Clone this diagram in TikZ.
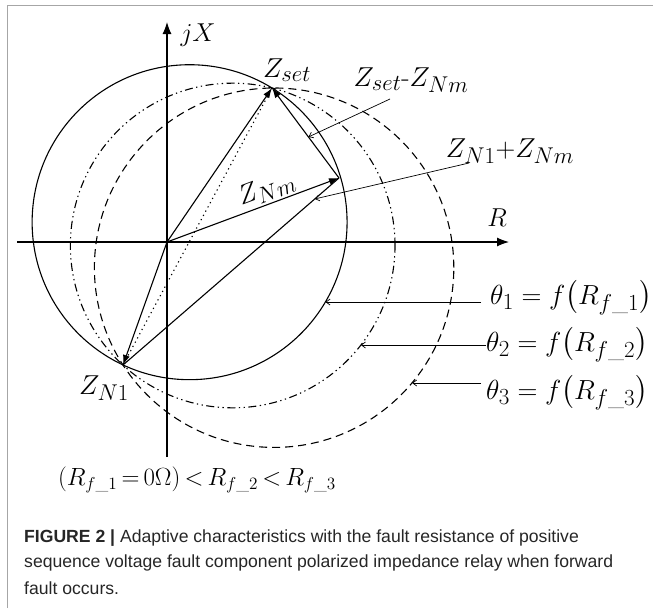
\documentclass[tikz,border=0pt]{standalone}
\usepackage{fontspec}
\usepackage{amsmath}
\usepackage{graphicx}
\setsansfont{Liberation Sans}
\usetikzlibrary{arrows.meta,calc}
\tikzset{
  mainline/.style={line width=1.1pt},
  vec/.style={mainline,-{Latex[length=10pt,width=7pt]}},
  axisline/.style={line width=1.1pt,-{Latex[length=12pt,width=9pt]}},
  ptr/.style={line width=0.7pt,-{Straight Barb[length=4pt,width=6pt]}},
  dashcirc/.style={line width=1.1pt,dash pattern=on 8pt off 5pt},
  dddcirc/.style={line width=1.1pt,dash pattern=on 8pt off 3.5pt on 1.3pt off 3.5pt on 1.3pt off 3.5pt},
  dotline/.style={line width=1.1pt,dash pattern=on 1.2pt off 3.6pt},
  mlabel/.style={inner sep=0pt,font=\fontsize{24.88}{30}\selectfont},
  tlabel/.style={inner sep=0pt,anchor=west,font=\fontsize{24.88}{30}\selectfont},
  caption/.style={inner sep=0pt,anchor=west,font=\sffamily\fontsize{17.6}{21}\selectfont,text=black!85}
}
\begin{document}
\begin{tikzpicture}[x=1pt,y=-1pt]
\useasboundingbox (0,0) rectangle (653,608);
% frame
\draw[gray!70,line width=1.5pt] (7.5,608) -- (7.5,5.5) -- (653,5.5);
% key points
\coordinate (O) at (167,242);
\coordinate (Zs) at (272,88);
\coordinate (Zn) at (123,365);
\coordinate (P) at (339,178);
\coordinate (yb) at (167,457);
\coordinate (yt) at (167,22);
\coordinate (xl) at (17,242);
\coordinate (xr) at (509,242);
\coordinate (c1) at (189.6,222.2);
\coordinate (c2) at (232.7,245.5);
\coordinate (c3) at (274.1,267.7);
% axes
\draw[axisline] (yb) -- (yt);
\draw[axisline] (xl) -- (xr);
\node[mlabel] (ljx) at (198,35) {\scalebox{1.04}{$jX$}};
\node[mlabel] (lr) at (497,218) {\scalebox{1.04}{$R$}};
% circles
\draw[mainline] let \p1=($(Zs)-(c1)$), \n1={veclen(\x1,\y1)} in (c1) circle (\n1);
\draw[dddcirc] let \p1=($(Zs)-(c2)$), \n1={veclen(\x1,\y1)} in (c2) circle (\n1);
\draw[dashcirc] let \p1=($(Zs)-(c3)$), \n1={veclen(\x1,\y1)} in (c3) circle (\n1);
% vectors
\draw[dotline] (Zs) -- (Zn);
\draw[mainline] (Zn) -- (P);
\draw[vec] (O) -- (Zs);
\draw[vec] (O) -- (Zn);
\draw[vec] (O) -- (P) node[mlabel,pos=0.61,sloped,above=2pt] (lznm) {\scalebox{1.1}{$Z_{Nm}$}};
\draw[vec] (P) -- (Zs);
% labels
\node[mlabel] (lzs) at (287,70) {\scalebox{1.1}{$Z_{set}$}};
\node[mlabel] (lzn) at (104,388) {\scalebox{1.1}{$Z_{N1}$}};
\node[mlabel] (lzsm) at (411,80) {\scalebox{1.1}{$Z_{set}\mbox{-}Z_{Nm}$}};
\node[mlabel] (lznp) at (510,151) {\scalebox{1.1}{$Z_{N1}{+}Z_{Nm}$}};
% pointers
\coordinate (s1) at (390,99);
\coordinate (s2) at (469,163);
\draw[ptr] (s1) -- ($(P)!0.456!(Zs)$);
\draw[ptr] (s2) -- ($(Zn)!0.888!(P)$);
\node[tlabel] (t1) at (490,298) {\scalebox{1.11}{$\theta_1 = f\bigl(R_{f\_1}\bigr)$}};
\node[tlabel] (t2) at (486,345) {\scalebox{1.11}{$\theta_2 = f\bigl(R_{f\_2}\bigr)$}};
\node[tlabel] (t3) at (486,393) {\scalebox{1.11}{$\theta_3 = f\bigl(R_{f\_3}\bigr)$}};
\coordinate (e1) at (325.5,302);
\coordinate (e2) at (360.9,345);
\coordinate (e3) at (412.1,383);
\draw[ptr] (481,302) -- (e1);
\draw[ptr] (t2.west) -- (e2);
\draw[ptr] (481,383) -- (e3);
\node[mlabel,font=\fontsize{20.74}{25}\selectfont] (lbot) at (197,480) {\thickmuskip=3mu \scalebox{1.2}{$(R_{f\_1} = 0\Omega) < R_{f\_2} < R_{f\_3}$}};
% caption
\node[caption] (cap1) at (24,538) {\textbf{FIGURE 2} {\fontseries{b}\selectfont|} Adaptive characteristics with the fault resistance of positive};
\node[caption] (cap2) at (24,563) {sequence voltage fault component polarized impedance relay when forward};
\node[caption] (cap3) at (24,588) {fault occurs.};
\end{tikzpicture}
\end{document}
